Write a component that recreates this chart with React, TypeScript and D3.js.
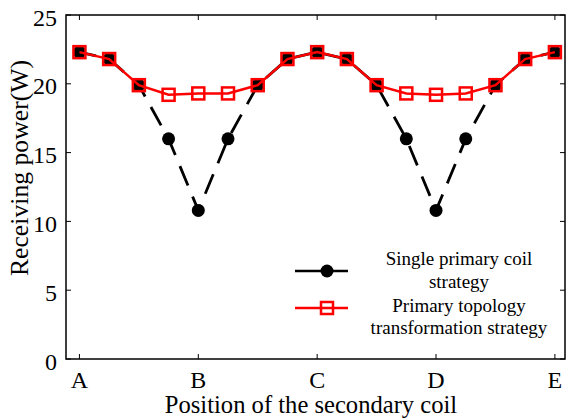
import React from "react";
import * as d3 from "d3";

const positions = [0, 0.25, 0.5, 0.75, 1, 1.25, 1.5, 1.75, 2, 2.25, 2.5, 2.75, 3, 3.25, 3.5, 3.75, 4];
const singleCoil = [22.3, 21.8, 19.9, 16.0, 10.8, 16.0, 19.9, 21.8, 22.3, 21.8, 19.9, 16.0, 10.8, 16.0, 19.9, 21.8, 22.3];
const topology = [22.3, 21.8, 19.9, 19.2, 19.3, 19.3, 19.9, 21.8, 22.3, 21.8, 19.9, 19.3, 19.2, 19.3, 19.9, 21.8, 22.3];
const xTickLabels = ["A", "B", "C", "D", "E"];
const yTicks = [0, 5, 10, 15, 20, 25];

export default function App() {
  const W = 568, H = 420;
  const left = 66, right = 565, top = 15, bottom = 359;
  const x = d3.scaleLinear().domain([-0.113, 4.085]).range([left, right]);
  const y = d3.scaleLinear().domain([0, 25]).range([bottom, top]);
  const line = d3.line<number>().x((_, i) => x(positions[i])).y((d) => y(d));
  const ts: React.CSSProperties = { fontFamily: '"Liberation Serif", "DejaVu Serif", serif' };
  const sq = 12;
  return (
    <svg width={W} height={H} style={{ position: "absolute", left: 0, top: 0, background: "#fff" }}>
      <rect x={0} y={0} width={W} height={H} fill="#fff" />
      <rect x={left} y={top} width={right - left} height={bottom - top} fill="none" stroke="#000" strokeWidth={1.5} />
      {xTickLabels.map((t, i) => (
        <g key={t}>
          <line x1={x(i)} x2={x(i)} y1={bottom} y2={bottom - 5} stroke="#000" strokeWidth={1} />
          <line x1={x(i)} x2={x(i)} y1={top} y2={top + 5} stroke="#000" strokeWidth={1} />
          <text x={x(i)} y={388} fontSize={24} textAnchor="middle" style={ts}>{t}</text>
        </g>
      ))}
      {yTicks.map((t) => (
        <g key={t}>
          <line x1={left} x2={left + 5} y1={y(t)} y2={y(t)} stroke="#000" strokeWidth={1} />
          <line x1={right} x2={right - 5} y1={y(t)} y2={y(t)} stroke="#000" strokeWidth={1} />
          <text x={57} y={y(t) + 10.5} fontSize={24} textAnchor="end" style={ts}>{t}</text>
        </g>
      ))}
      <text x={311} y={413} fontSize={24.6} textAnchor="middle" style={ts}>Position of the secondary coil</text>
      <text transform={`translate(28,168) rotate(-90)`} fontSize={25.7} textAnchor="middle" style={ts}>Receiving power(W)</text>
      <path d={line(singleCoil) || ""} fill="none" stroke="#000" strokeWidth={2.8} strokeDasharray="21,12" strokeDashoffset={4} />
      {singleCoil.map((v, i) => (
        <circle key={i} cx={x(positions[i])} cy={y(v)} r={6.5} fill="#000" />
      ))}
      <path d={line(topology) || ""} fill="none" stroke="#f00" strokeWidth={2.5} />
      {topology.map((v, i) => (
        <rect key={i} x={x(positions[i]) - sq / 2} y={y(v) - sq / 2} width={sq} height={sq} fill="none" stroke="#f00" strokeWidth={2.5} />
      ))}
      <line x1={295} x2={348} y1={271} y2={271} stroke="#000" strokeWidth={2.5} />
      <circle cx={327} cy={271} r={6.5} fill="#000" />
      <line x1={295} x2={348} y1={308} y2={308} stroke="#f00" strokeWidth={2.5} />
      <rect x={327 - sq / 2} y={308 - sq / 2} width={sq} height={sq} fill="none" stroke="#f00" strokeWidth={2.5} />
      <text x={459} y={265} fontSize={19} textAnchor="middle" style={ts}>Single primary coil</text>
      <text x={459} y={288} fontSize={19} textAnchor="middle" style={ts}>strategy</text>
      <text x={459} y={312} fontSize={19} textAnchor="middle" style={ts}>Primary topology</text>
      <text x={459} y={334} fontSize={19} textAnchor="middle" style={ts}>transformation strategy</text>
    </svg>
  );
}
